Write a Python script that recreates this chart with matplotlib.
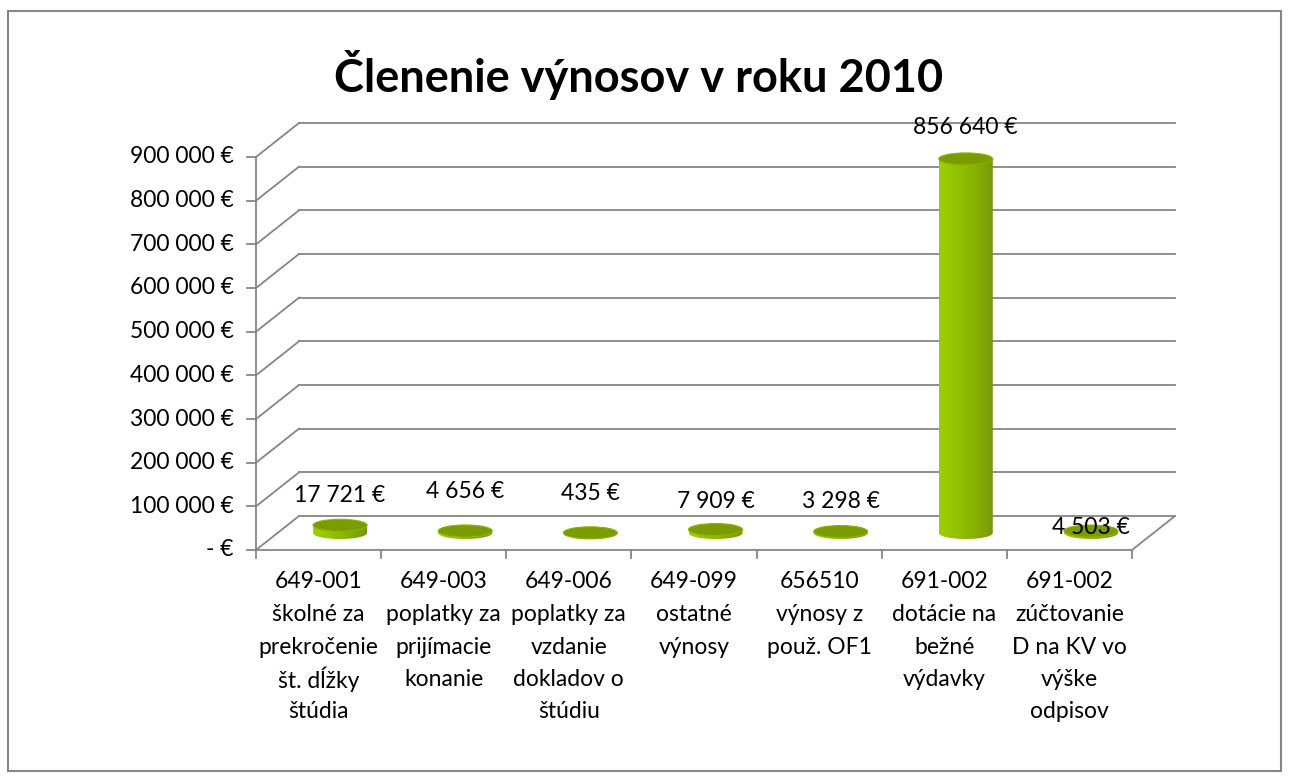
import numpy as np
import matplotlib
matplotlib.use("Agg")
import matplotlib.pyplot as plt
from matplotlib.patches import Polygon, Ellipse, Rectangle
from matplotlib.colors import LinearSegmentedColormap

title = "Členenie výnosov v roku 2010"
categories = [
    "649-001\nškolné za\nprekročenie\nšt. dĺžky\nštúdia",
    "649-003\npoplatky za\nprijímacie\nkonanie",
    "649-006\npoplatky za\nvzdanie\ndokladov o\nštúdiu",
    "649-099\nostatné\nvýnosy",
    "656510\nvýnosy z\npouž. OF1",
    "691-002\ndotácie na\nbežné\nvýdavky",
    "691-002\nzúčtovanie\nD na KV vo\nvýške\nodpisov",
]
values = [17721, 4656, 435, 7909, 3298, 856640, 4503]
yticks = [0, 100000, 200000, 300000, 400000, 500000, 600000, 700000, 800000, 900000]

# label offsets above cylinder tops (px), excel put them a bit unevenly
label_off = [30, 39, 39, 28, 30, 31, 4]

plt.rcParams['font.family'] = ['Lato', 'DejaVu Sans']
fs = 16.5

W, H = 1290, 780
fig = plt.figure(figsize=(W/100, H/100), dpi=100)

# geometry of the pseudo 3d box, in pixels
fx0, fx1 = 256, 1132
fy0, fy1 = 550, 157
ddx, ddy = 43, 34
n = len(values)
ymax = yticks[-1]
ux = (fx1 - fx0) / n
uy = (fy0 - fy1) / ymax
dx = ddx / ux
dy = ddy / uy

ax = fig.add_axes([fx0/W, (H-fy0)/H, (fx1+ddx-fx0)/W, (fy0-fy1+ddy)/H])
ax.axis('off')

gc = "#868686"
lw = 1.3
# walls / grid
ax.plot([0, 0], [0, ymax], color=gc, lw=lw, clip_on=False)
for v in yticks:
    ax.plot([0, dx], [v, v+dy], color=gc, lw=lw, clip_on=False)
    ax.plot([dx, n+dx], [v+dy, v+dy], color=gc, lw=lw, clip_on=False)
    ax.plot([-9/ux, 0], [v, v], color=gc, lw=lw, clip_on=False)
    lab = "- €" if v == 0 else f"{v:,}".replace(",", " ") + " €"
    ax.text((234-fx0)/ux, v, lab, ha='right', va='center', fontsize=fs)
ax.plot([0, n], [0, 0], color=gc, lw=lw, clip_on=False)
ax.plot([n, n+dx], [0, dy], color=gc, lw=lw, clip_on=False)
for i in range(n+1):
    ax.plot([i, i], [0, -8/uy], color=gc, lw=lw, clip_on=False)

# cylinders
cmap = LinearSegmentedColormap.from_list("g", ["#9dcf00", "#92c200", "#86b000", "#76990a"])
grad = np.linspace(0, 1, 64).reshape(1, -1)
hw = 27/ux
eh = 12/uy
t = np.linspace(np.pi, 2*np.pi, 40)
for i, v in enumerate(values):
    cx = i + 0.5 + dx/2
    y0 = dy/2
    y1 = v + dy/2
    pts = [(cx-hw, y1)] + list(zip(cx + hw*np.cos(t), y0 + eh/2*np.sin(t))) + [(cx+hw, y1)]
    poly = Polygon(pts, closed=True, fc='none', ec='none', transform=ax.transData)
    ax.add_patch(poly)
    im = ax.imshow(grad, extent=[cx-hw, cx+hw, y0-eh/2, y1], cmap=cmap,
                   aspect='auto', zorder=3, interpolation='bilinear')
    im.set_clip_path(poly)
    ax.add_patch(Ellipse((cx, y1), 2*hw, eh, fc="#7a9c00", ec="#8cb400", lw=0.8, zorder=4))
    lab = f"{v:,}".replace(",", " ") + " €"
    ax.annotate(lab, (cx, y1), xytext=(0, label_off[i]*0.72), textcoords='offset points',
                ha='center', va='center', fontsize=fs, zorder=5)

# category labels, one line at a time so the spacing stays even
for i, c in enumerate(categories):
    for k, line in enumerate(c.split("\n")):
        ypx = 582 + k*32.5
        ax.text(i + 0.5, -(ypx-fy0)/uy, line, ha='center', va='center', fontsize=fs)

ax.set_xlim(0, n+dx)
ax.set_ylim(0, ymax+dy)

fig.text(639/W, 1-75/H, title, ha='center', va='center', fontsize=32.5, fontweight='bold')
fig.patches.append(Rectangle((8/W, 9/H), (1281-8)/W, (771-11)/H, transform=fig.transFigure,
                             fill=False, ec=gc, lw=1.5))

fig.savefig("out.png", dpi=100)
